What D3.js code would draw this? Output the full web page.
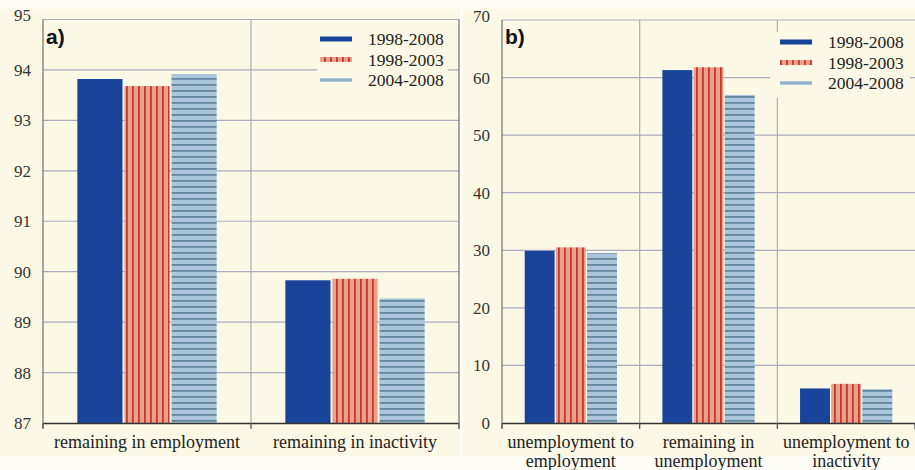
<!DOCTYPE html>
<html>
<head>
<meta charset="utf-8">
<script src="https://cdn.jsdelivr.net/npm/d3@7"></script>
<style>
  html, body { margin: 0; padding: 0; background: #fdfdf6; }
  svg { display: block; }
</style>
</head>
<body>
<svg id="chart" width="915" height="470"></svg>
<script>
// ---- DATA ----
const seriesNames = ["1998-2008", "1998-2003", "2004-2008"];

const categoriesA = ["remaining in employment", "remaining in inactivity"];
const a_1998_2008 = [93.82, 89.83];
const a_1998_2003 = [93.68, 89.86];
const a_2004_2008 = [93.92, 89.47];
const ticksA = [87, 88, 89, 90, 91, 92, 93, 94, 95];

const categoriesB = ["unemployment to\nemployment", "remaining in\nunemployment", "unemployment to\ninactivity"];
const b_1998_2008 = [29.9, 61.3, 6.0];
const b_1998_2003 = [30.5, 61.8, 6.8];
const b_2004_2008 = [29.5, 57.0, 5.9];
const ticksB = [0, 10, 20, 30, 40, 50, 60, 70];

// ---- DRAW ----
const svg = d3.select("#chart");
const defs = svg.append("defs");

// Red vertical stripes
const pr = defs.append("pattern").attr("id", "redStripe").attr("patternUnits", "userSpaceOnUse")
  .attr("width", 6).attr("height", 6);
pr.append("rect").attr("width", 6).attr("height", 6).attr("fill", "#eba08c");
pr.append("rect").attr("x", 0).attr("width", 1.8).attr("height", 6).attr("fill", "#c2392e");
// Light blue horizontal stripes
const pb = defs.append("pattern").attr("id", "blueStripe").attr("patternUnits", "userSpaceOnUse")
  .attr("width", 6).attr("height", 6);
pb.append("rect").attr("width", 6).attr("height", 6).attr("fill", "#abc5da");
pb.append("rect").attr("y", 0).attr("width", 6).attr("height", 1.8).attr("fill", "#62869e");

const fills = ["#1a449c", "url(#redStripe)", "url(#blueStripe)"];
const gridColor = "#aaaac4";
const serif = "'Liberation Serif', 'Times New Roman', serif";

// panel backgrounds
svg.append("rect").attr("x", 0).attr("y", 9).attr("width", 460).attr("height", 447).attr("fill", "#fbf9e6");
svg.append("rect").attr("x", 463).attr("y", 9).attr("width", 452).attr("height", 447).attr("fill", "#fbf9e6");

function panel(opts) {
  const { x0, x1, yTop, yBot, domain, ticks, cats, series, label, legendX, legendY, legendBox } = opts;
  const g = svg.append("g");
  const x = d3.scaleBand().domain(cats).range([x0, x1]).paddingInner(0).paddingOuter(0);
  const y = d3.scaleLinear().domain(domain).range([yBot, yTop]);
  const xs = d3.scaleBand().domain(seriesNames)
    .range([x.bandwidth() * 0.165, x.bandwidth() * 0.835]).paddingInner(0.04);

  // horizontal grid
  g.append("g").selectAll("line").data(ticks.slice(1)).join("line")
    .attr("x1", x0).attr("x2", x1)
    .attr("y1", d => y(d)).attr("y2", d => y(d))
    .attr("stroke", gridColor).attr("stroke-width", 1.2);
  // vertical separators
  g.append("g").selectAll("line").data(cats.slice(1)).join("line")
    .attr("x1", d => x(d)).attr("x2", d => x(d))
    .attr("y1", yTop).attr("y2", yBot)
    .attr("stroke", gridColor).attr("stroke-width", 1.2);

  // legend box (covers grid)
  g.append("rect").attr("x", legendBox[0]).attr("y", legendBox[1])
    .attr("width", legendBox[2]).attr("height", legendBox[3]).attr("fill", "#fbf9e6");

  // bars
  series.forEach((vals, si) => {
    g.append("g").selectAll("rect").data(cats).join("rect")
      .attr("x", (c) => x(c) + xs(seriesNames[si]))
      .attr("width", xs.bandwidth())
      .attr("y", (c, i) => y(vals[i]))
      .attr("height", (c, i) => yBot - y(vals[i]))
      .attr("fill", fills[si]);
  });

  // left axis line
  g.append("line").attr("x1", x0).attr("x2", x0).attr("y1", yTop).attr("y2", yBot + 5)
    .attr("stroke", "#777").attr("stroke-width", 1.3);
  // y tick labels
  g.append("g").selectAll("text").data(ticks).join("text")
    .attr("x", x0 - 12).attr("y", d => y(d))
    .attr("dy", d => d === domain[1] ? "0.1em" : "0.35em")
    .attr("text-anchor", "end")
    .attr("font-family", serif).attr("font-size", 17).attr("fill", "#333")
    .text(d => d);

  // bottom axis
  const xAxis = d3.axisBottom(x).tickValues([]).tickSizeOuter(0);
  const ax = g.append("g").attr("transform", `translate(0,${yBot})`).call(xAxis);
  ax.select(".domain").attr("stroke", "#333").attr("stroke-width", 1.5);
  // boundary ticks
  const bounds = cats.map(c => x(c)).concat([x1]);
  g.append("g").selectAll("line").data(bounds).join("line")
    .attr("x1", d => d).attr("x2", d => d).attr("y1", yBot).attr("y2", yBot + 6)
    .attr("stroke", "#555").attr("stroke-width", 1.3);

  // category labels
  g.append("g").selectAll("text").data(cats).join("text")
    .attr("x", c => x(c) + x.bandwidth() / 2)
    .attr("y", yBot + 25)
    .attr("text-anchor", "middle")
    .attr("font-family", serif).attr("font-size", 18).attr("fill", "#222")
    .each(function (c) {
      const lines = c.split("\n");
      d3.select(this).selectAll("tspan").data(lines).join("tspan")
        .attr("x", x(c) + x.bandwidth() / 2)
        .attr("dy", (l, i) => i === 0 ? 0 : "1.05em")
        .text(l => l);
    });

  // panel label
  g.append("text").attr("x", x0 + 3).attr("y", yTop + 24)
    .attr("font-family", "'Liberation Sans', Arial, sans-serif").attr("font-weight", "bold")
    .attr("font-size", 21).attr("fill", "#111").text(label);

  // legend
  const lg = g.append("g");
  seriesNames.forEach((s, i) => {
    const ly = legendY + i * 20.5;
    const h = i === 2 ? 4 : 5;
    lg.append("rect").attr("x", legendX).attr("y", ly - h / 2).attr("width", 32).attr("height", h)
      .attr("fill", i === 0 ? "#1a449c" : (i === 1 ? "url(#redStripe)" : "#abc5da"));
    if (i === 2) {
      lg.append("line").attr("x1", legendX).attr("x2", legendX + 32).attr("y1", ly).attr("y2", ly)
        .attr("stroke", "#7f9bb2").attr("stroke-width", 1);
    }
    lg.append("text").attr("x", legendX + 48).attr("y", ly).attr("dy", "0.35em")
      .attr("font-family", serif).attr("font-size", 17.5).attr("fill", "#222").text(s);
  });
}

panel({
  x0: 43, x1: 459, yTop: 19.5, yBot: 423, domain: [87, 95], ticks: ticksA,
  cats: categoriesA, series: [a_1998_2008, a_1998_2003, a_2004_2008], label: "a)",
  legendX: 320, legendY: 39, legendBox: [317, 27, 131, 64]
});
// right border of panel a
svg.append("line").attr("x1", 459).attr("x2", 459).attr("y1", 19.5).attr("y2", 429)
  .attr("stroke", "#777").attr("stroke-width", 1.3);

panel({
  x0: 502, x1: 915, yTop: 20, yBot: 423, domain: [0, 70], ticks: ticksB,
  cats: categoriesB, series: [b_1998_2008, b_1998_2003, b_2004_2008], label: "b)",
  legendX: 780, legendY: 42, legendBox: [770, 32, 140, 66]
});
</script>
</body>
</html>
